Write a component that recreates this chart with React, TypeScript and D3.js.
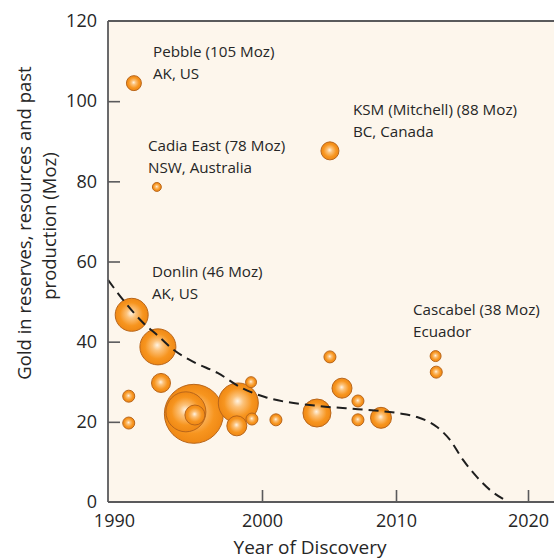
import * as d3 from 'd3'
import { useEffect, useRef } from 'react'

// deposits: year of discovery, gold endowment (Moz), relative deposit size
const discoveryYear = [
  1991.35, 1992.9, 2005.07, 2013.0, 2013.05, 1991.2, 1992.97, 1993.18, 1991.0, 1991.0,
  1995.4, 1994.86, 1995.47, 1998.4, 1998.3, 1999.26, 1999.32, 2001.04, 2005.07, 2004.1,
  2005.97, 2007.16, 2007.16, 2008.88,
]
const goldMoz = [
  104.5, 78.6, 87.6, 36.4, 32.4, 46.7, 38.7, 29.7, 26.4, 19.7,
  22.0, 22.5, 21.7, 24.7, 19.0, 29.9, 20.7, 20.5, 36.2, 22.2,
  28.4, 25.2, 20.5, 21.0,
]
const depositSize = [
  5.6, 2.0, 8.1, 3.0, 3.6, 27.2, 32.4, 9.0, 3.6, 3.6,
  87, 40, 10, 40, 10, 3.0, 3.6, 3.6, 3.6, 19.6,
  10, 3.6, 3.6, 11,
]

// discovery trend (dashed)
const trendYear = [
  1989.6, 1990.8, 1992.0, 1993.0, 1994.05, 1995.4, 1997.0, 1998.65, 2000.22, 2004.1,
  2007.84, 2010.08, 2011.59, 2013.11, 2014.09, 2015.08, 2016.14, 2017.12, 2018.41,
]
const trendMoz = [
  55.4, 49.6, 44.6, 41.4, 37.9, 34.9, 32.2, 28.4, 26.2, 24.0,
  23.0, 22.2, 21.2, 18.7, 15.5, 10.5, 6.2, 3.0, 0.2,
]

// annotations
const labelTitle = ['Pebble (105 Moz)', 'Cadia East (78 Moz)', 'KSM (Mitchell) (88 Moz)', 'Donlin (46 Moz)', 'Cascabel (38 Moz)']
const labelPlace = ['AK, US', 'NSW, Australia', 'BC, Canada', 'AK, US', 'Ecuador']
const labelYear = [1992.64, 1992.3, 2006.79, 1992.57, 2011.29]
const labelMoz = [111.0, 87.6, 96.6, 56.1, 46.7]

const xTicks = [1990, 2000, 2010, 2020]
const yTicks = [0, 20, 40, 60, 80, 100, 120]

const width = 554
const height = 559
const font = '"Open Sans", sans-serif'
const ink = '#262626'

export default function App() {
  const x = d3.scaleLinear([1989.6, 2000, 2010, 2020, 2021.97], [108, 262, 396, 528, 554])
  const y = d3.scaleLinear([0, 120], [502, 21])
  const r = d3.scaleSqrt([0, 87], [0, 29.5])
  const gxRef = useRef<SVGGElement>(null)
  const gyRef = useRef<SVGGElement>(null)

  const xr = x.range()
  const left = xr[0]
  const right = xr[xr.length - 1]
  const bottom = y(0)
  const top = y(120)

  const trend = d3
    .line<number>((d, i) => x(trendYear[i]), (d) => y(d))
    .curve(d3.curveMonotoneX)(trendMoz) || undefined

  // big bubbles first so the small ones stay visible on top
  const order = d3.range(discoveryYear.length).sort((a, b) => depositSize[b] - depositSize[a])

  useEffect(() => {
    if (!gxRef.current) return
    const g = d3.select(gxRef.current)
    g.call(d3.axisBottom(x).tickValues(xTicks).tickFormat(d3.format('d')).tickSize(-12).tickSizeOuter(0).tickPadding(12))
    g.select('.domain').remove()
    g.selectAll('.tick line').attr('stroke', '#5a5a5c').attr('stroke-width', 1.6)
    g.selectAll<SVGGElement, number>('.tick').filter((d) => d === 1990).select('line').remove()
    g.selectAll('.tick text').attr('fill', ink).style('font-family', font).style('font-size', '18px')
  }, [x])

  useEffect(() => {
    if (!gyRef.current) return
    const g = d3.select(gyRef.current)
    g.call(d3.axisLeft(y).tickValues(yTicks).tickSize(-12).tickSizeOuter(0).tickPadding(11))
    g.select('.domain').remove()
    g.selectAll('.tick line').attr('stroke', '#5a5a5c').attr('stroke-width', 1.6)
    g.selectAll<SVGGElement, number>('.tick').filter((d) => d === 0 || d === 120).select('line').remove()
    g.selectAll('.tick text').attr('fill', ink).style('font-family', font).style('font-size', '18px')
  }, [y])

  return (
    <svg
      width={width}
      height={height}
      viewBox={`0 0 ${width} ${height}`}
      style={{ position: 'absolute', left: 0, top: 0, background: '#fff' }}
    >
      <defs>
        <radialGradient id="bubble" cx="50%" cy="50%" r="50%" fx="48%" fy="45%">
          <stop offset="0%" stopColor="#fff3e2" />
          <stop offset="28%" stopColor="#fcc27a" />
          <stop offset="70%" stopColor="#f7951f" />
          <stop offset="100%" stopColor="#ef8814" />
        </radialGradient>
      </defs>

      <rect x={left} y={top} width={right - left} height={bottom - top} fill="#fdf6ec" />

      <g>
        {order.map((i) => (
          <circle
            key={i}
            cx={x(discoveryYear[i])}
            cy={y(goldMoz[i])}
            r={r(depositSize[i])}
            fill="url(#bubble)"
            stroke="#b9661a"
            strokeWidth={1}
          />
        ))}
      </g>

      <path d={trend} fill="none" stroke="#1e1e1e" strokeWidth={2} strokeDasharray="10,6" />

      <g fill={ink} style={{ fontFamily: font, fontSize: '15.2px' }}>
        {labelTitle.map((t, i) => (
          <text key={t} x={x(labelYear[i])} y={y(labelMoz[i])}>
            {t}
            <tspan x={x(labelYear[i])} dy={22}>
              {labelPlace[i]}
            </tspan>
          </text>
        ))}
      </g>

      <g stroke="#5a5a5c" strokeWidth={1.8} fill="none">
        <line x1={left} x2={left} y1={top} y2={bottom} />
        <line x1={left} x2={right} y1={bottom} y2={bottom} />
        <line x1={left} x2={right} y1={top} y2={top} />
      </g>

      <g ref={gxRef} transform={`translate(0,${bottom})`} />
      <g ref={gyRef} transform={`translate(${left},0)`} />

      <text x={310} y={554} textAnchor="middle" fill={ink} style={{ fontFamily: font, fontSize: '19px' }}>
        Year of Discovery
      </text>
      <g fill={ink} style={{ fontFamily: font, fontSize: '18.5px' }} textAnchor="middle">
        <text transform="translate(31,223) rotate(-90)">Gold in reserves, resources and past</text>
        <text transform="translate(56,226) rotate(-90)">production (Moz)</text>
      </g>
    </svg>
  )
}
